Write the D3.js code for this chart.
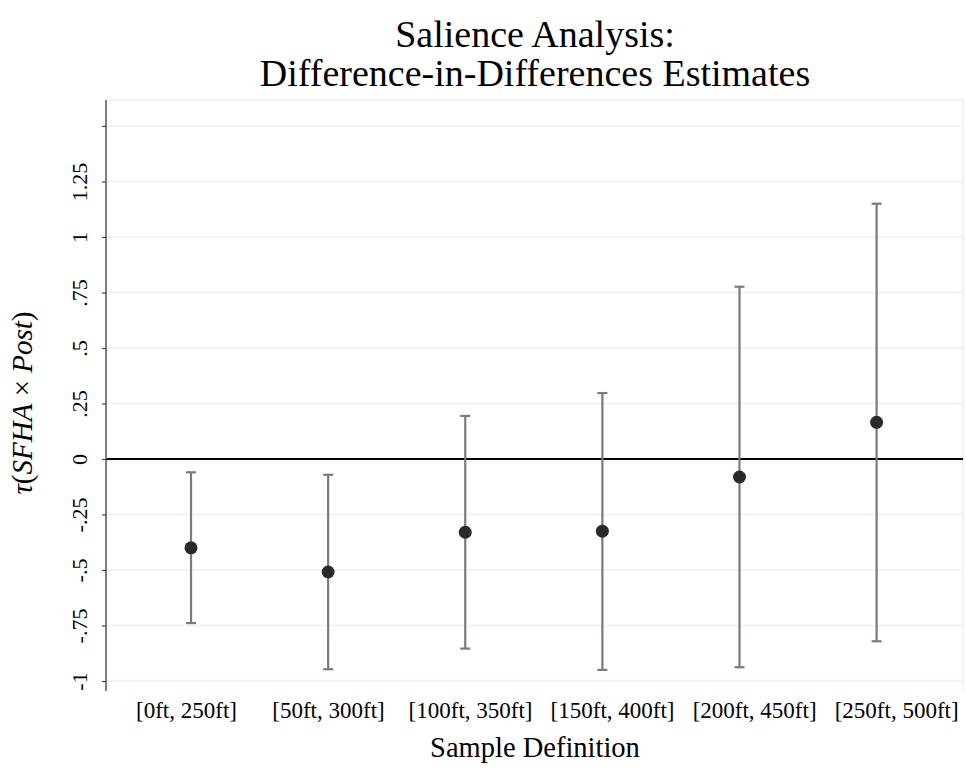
<!DOCTYPE html>
<html>
<head>
<meta charset="utf-8">
<script src="https://cdn.jsdelivr.net/npm/d3@7"></script>
<style>
  html, body { margin: 0; padding: 0; background: #fff; }
  svg { display: block; }
  text { font-family: "Liberation Serif", "Times New Roman", serif; fill: #000; }
</style>
</head>
<body>
<svg id="chart" width="966" height="772"></svg>
<script>
// Sample windows (distance bands) on the x axis
const categories = ["[0ft, 250ft]", "[50ft, 300ft]", "[100ft, 350ft]", "[150ft, 400ft]", "[200ft, 450ft]", "[250ft, 500ft]"];
// Point estimates and 95% confidence bounds
const estimates = [-0.40, -0.509, -0.33, -0.325, -0.081, 0.165];
const ciLower   = [-0.739, -0.947, -0.854, -0.950, -0.938, -0.821];
const ciUpper   = [-0.060, -0.071, 0.194, 0.297, 0.776, 1.150];
// Y axis ticks and their labels
const yTicks      = [-1, -0.75, -0.5, -0.25, 0, 0.25, 0.5, 0.75, 1, 1.25, 1.5];
const yTickLabels = ["-1", "-.75", "-.5", "-.25", "0", ".25", ".5", ".75", "1", "1.25", ""];

const svg = d3.select("#chart");
const plot = { left: 106, right: 963, top: 100, bottom: 691 };

const x = d3.scaleLinear().domain([0.38, 6.63]).range([plot.left, plot.right]);
const y = d3.scaleLinear().domain([-1.045, 1.617]).range([plot.bottom, plot.top]);
// Category labels are spread a little wider than the markers
const xLabel = d3.scalePoint().domain(categories).range([x(0.967), x(6.146)]);

const gridColor = "#e8f0f2";

// Plot region outline (top and right edges)
svg.append("line").attr("x1", plot.left).attr("x2", plot.right)
  .attr("y1", plot.top).attr("y2", plot.top)
  .attr("stroke", gridColor).attr("stroke-width", 1.5);
svg.append("line").attr("x1", plot.right).attr("x2", plot.right)
  .attr("y1", plot.top).attr("y2", plot.bottom)
  .attr("stroke", gridColor).attr("stroke-width", 1.5);

// Horizontal gridlines
svg.append("g").selectAll("line").data(yTicks).join("line")
  .attr("x1", plot.left).attr("x2", plot.right)
  .attr("y1", d => y(d)).attr("y2", d => y(d))
  .attr("stroke", gridColor).attr("stroke-width", 1.5);

// Zero reference line
svg.append("line").attr("x1", plot.left).attr("x2", plot.right)
  .attr("y1", y(0)).attr("y2", y(0))
  .attr("stroke", "#000").attr("stroke-width", 2);

// Y axis
const yAxis = d3.axisLeft(y).tickValues(yTicks)
  .tickFormat((d, i) => yTickLabels[i]).tickSize(4);
const gy = svg.append("g").attr("transform", `translate(${plot.left},0)`).call(yAxis);
gy.select(".domain").attr("stroke", "#555").attr("stroke-width", 1.5)
  .attr("d", `M0,${plot.top}V${plot.bottom}`);
gy.selectAll(".tick line").attr("stroke", "#444").attr("stroke-width", 1.2);
gy.selectAll(".tick text")
  .attr("font-family", "Liberation Serif, serif").attr("font-size", 22)
  .attr("fill", "#000")
  .attr("text-anchor", "middle")
  .attr("x", null).attr("dy", null)
  .attr("transform", "translate(-19,0) rotate(-90)");

// X tick labels
svg.append("g").selectAll("text").data(categories).join("text")
  .attr("x", d => xLabel(d)).attr("y", 718)
  .attr("text-anchor", "middle").attr("font-size", 23)
  .text(d => d);

// Error bars
const bars = svg.append("g").selectAll("g").data(categories).join("g");
const cap = 5;
bars.append("line")
  .attr("x1", (d, i) => x(i + 1)).attr("x2", (d, i) => x(i + 1))
  .attr("y1", (d, i) => y(ciLower[i])).attr("y2", (d, i) => y(ciUpper[i]))
  .attr("stroke", "#7a7a7a").attr("stroke-width", 2.2);
bars.append("line")
  .attr("x1", (d, i) => x(i + 1) - cap).attr("x2", (d, i) => x(i + 1) + cap)
  .attr("y1", (d, i) => y(ciUpper[i])).attr("y2", (d, i) => y(ciUpper[i]))
  .attr("stroke", "#7a7a7a").attr("stroke-width", 2.2);
bars.append("line")
  .attr("x1", (d, i) => x(i + 1) - cap).attr("x2", (d, i) => x(i + 1) + cap)
  .attr("y1", (d, i) => y(ciLower[i])).attr("y2", (d, i) => y(ciLower[i]))
  .attr("stroke", "#7a7a7a").attr("stroke-width", 2.2);

// Point estimates
svg.append("g").selectAll("circle").data(estimates).join("circle")
  .attr("cx", (d, i) => x(i + 1)).attr("cy", d => y(d))
  .attr("r", 6.5).attr("fill", "#2a2a2a");

// Title
const title = svg.append("text").attr("text-anchor", "middle").attr("font-size", 38);
title.append("tspan").attr("x", 535).attr("y", 47).text("Salience Analysis:");
title.append("tspan").attr("x", 535).attr("y", 86).text("Difference-in-Differences Estimates");

// X axis title
svg.append("text").attr("x", 535).attr("y", 757).attr("text-anchor", "middle")
  .attr("font-size", 28.5).text("Sample Definition");

// Y axis title
const yt = svg.append("text").attr("text-anchor", "middle").attr("font-size", 29)
  .attr("transform", "translate(32,403) rotate(-90)");
yt.append("tspan").attr("font-style", "italic").text("\u03c4");
yt.append("tspan").text("(");
yt.append("tspan").attr("font-style", "italic").text("SFHA");
yt.append("tspan").text(" \u00d7 ");
yt.append("tspan").attr("font-style", "italic").text("Post");
yt.append("tspan").text(")");
</script>
</body>
</html>
